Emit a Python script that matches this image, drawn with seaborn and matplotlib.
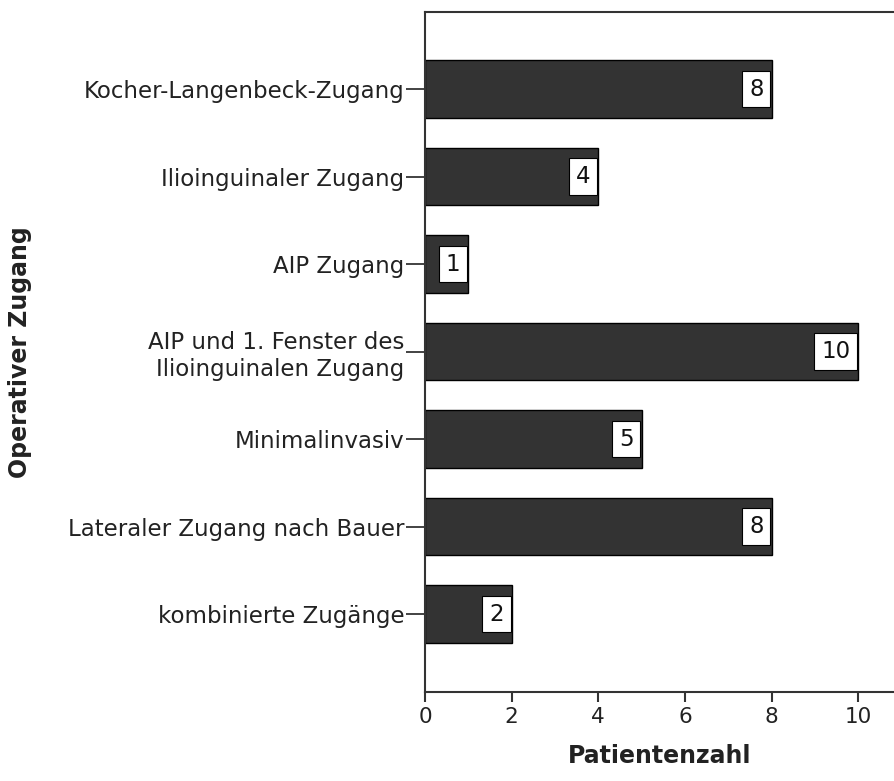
import matplotlib
matplotlib.use("Agg")
import matplotlib.pyplot as plt
import seaborn as sns
import pandas as pd

categories = [
    "Kocher-Langenbeck-Zugang",
    "Ilioinguinaler Zugang",
    "AIP Zugang",
    "AIP und 1. Fenster des\nIlioinguinalen Zugang",
    "Minimalinvasiv",
    "Lateraler Zugang nach Bauer",
    "kombinierte Zugänge",
]
counts = [8, 4, 1, 10, 5, 8, 2]
xticks = [0, 2, 4, 6, 8, 10]

sns.set_theme(style="white")
plt.rcParams["font.family"] = ["DejaVu Sans"]

df = pd.DataFrame({"cat": categories, "n": counts})

fig = plt.figure(figsize=(8.95, 7.81), dpi=100)
axw = 1 - 425 / 895
ax = fig.add_axes([425 / 895, 1 - 692 / 781, axw, (692 - 12) / 781])

sns.barplot(data=df, x="n", y="cat", orient="h", color="#333333",
            edgecolor="black", linewidth=1, width=0.66, ax=ax, saturation=1)

ax.set_xlim(0, 10.85)
ax.set_ylim(6.89, -0.88)
ax.set_xticks(xticks)
ax.set_xticklabels([str(t) for t in xticks], fontsize=15.5, color="#222222")
ax.tick_params(axis="y", labelsize=16.5, labelcolor="#222222", length=14,
               width=1.2, color="#222222", left=True, pad=1)
ax.tick_params(axis="x", length=7, width=1.5, color="#333333", bottom=True, pad=4)

fs = 16.5
pad = 0.3
for i, v in enumerate(counts):
    ax.annotate(str(v), xy=(v, i), xytext=(-pad * fs - 0.8, 0),
                textcoords="offset points", ha="right", va="center",
                fontsize=fs, color="#111111",
                bbox=dict(boxstyle=f"square,pad={pad}", facecolor="white",
                          edgecolor="black", linewidth=0.8))

ax.set_xlabel("Patientenzahl", fontsize=17, fontweight="bold", labelpad=12,
              color="#222222")
ax.set_ylabel("Operativer Zugang", fontsize=17, fontweight="bold",
              color="#222222")
ax.yaxis.set_label_coords((32 - 425) / 470, 0.5)

for s in ["left", "bottom", "top"]:
    ax.spines[s].set_visible(True)
    ax.spines[s].set_color("#333333")
    ax.spines[s].set_linewidth(1.5)
ax.spines["right"].set_visible(False)

fig.savefig("out.png", dpi=100)
